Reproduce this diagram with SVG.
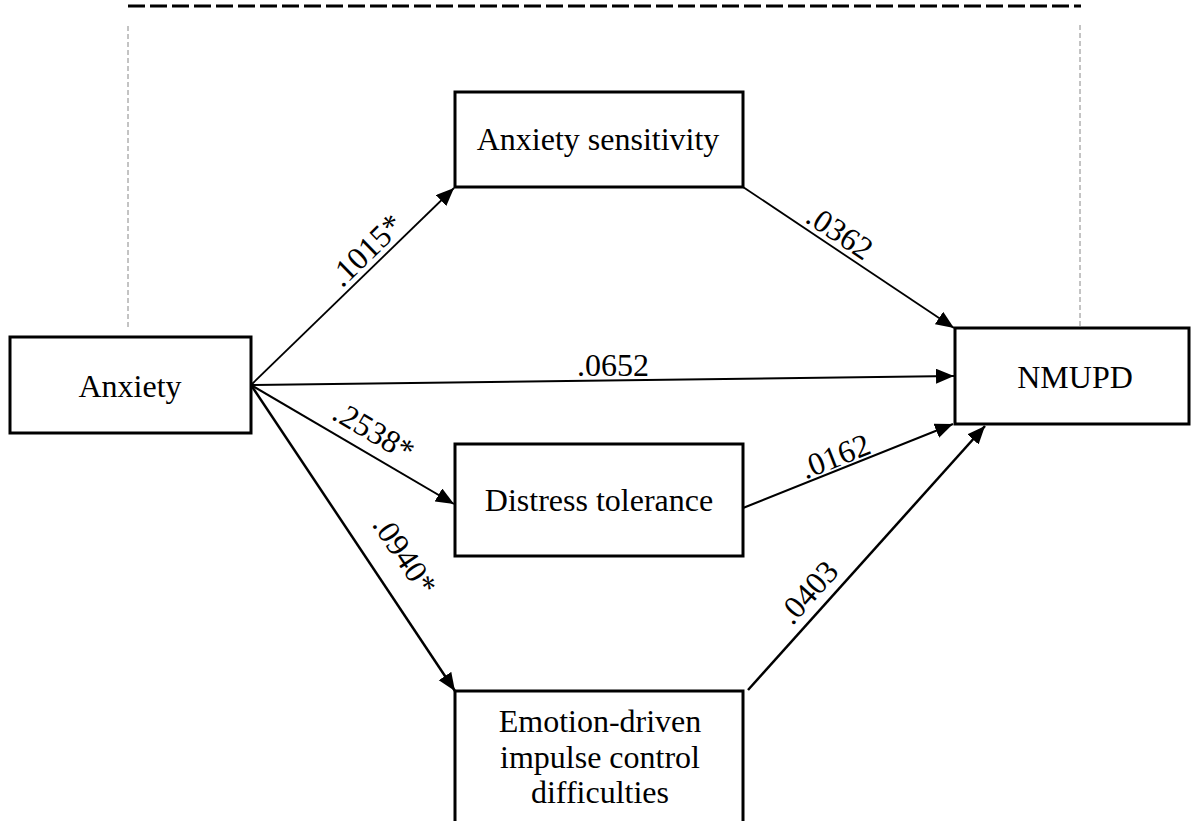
<svg xmlns="http://www.w3.org/2000/svg" width="1192" height="821" viewBox="0 0 1192 821">
  <defs>
    <marker id="arrow" markerUnits="userSpaceOnUse" markerWidth="20" markerHeight="16" refX="18" refY="7.5" orient="auto">
      <path d="M0,0 L18,7.5 L0,15 Z" fill="#000"/>
    </marker>
    <style>
      .node rect { fill: #fff; stroke: #000; stroke-width: 3; }
      .node text { font-family: "Liberation Serif", "Times New Roman", serif; font-size: 32px; fill: #000; text-anchor: middle; }
      .edge { stroke: #000; fill: none; marker-end: url(#arrow); }
      .label { font-family: "Liberation Serif", "Times New Roman", serif; font-size: 32px; fill: #000; text-anchor: middle; }
      .guide { stroke: #888; stroke-width: 1; stroke-dasharray: 5 3; fill: none; }
    </style>
  </defs>
  <rect width="1192" height="821" fill="#fff"/>

  <!-- bracket above the total-effect path -->
  <g id="bracket">
    <line x1="128" y1="6" x2="1081" y2="6" stroke="#000" stroke-width="3" stroke-dasharray="17 5"/>
    <line class="guide" x1="128" y1="26" x2="128" y2="328"/>
    <line class="guide" x1="1080" y1="25" x2="1080" y2="327"/>
  </g>

  <!-- connectors -->
  <g id="connectors">
    <line class="edge" x1="251" y1="385" x2="454" y2="188" stroke-width="1.8"/>
    <line class="edge" x1="743" y1="187" x2="954" y2="328" stroke-width="1.8"/>
    <line class="edge" x1="251" y1="385" x2="954" y2="376" stroke-width="2"/>
    <line class="edge" x1="251" y1="385" x2="454" y2="504" stroke-width="2"/>
    <line class="edge" x1="743" y1="508" x2="953" y2="424" stroke-width="2"/>
    <line class="edge" x1="251" y1="385" x2="455" y2="691" stroke-width="2.5"/>
    <line class="edge" x1="748" y1="690" x2="985" y2="426" stroke-width="2.5"/>
  </g>

  <!-- path coefficients -->
  <g id="labels">
    <text class="label" transform="translate(366,250) rotate(-44.2)" x="0" y="11">.1015*</text>
    <text class="label" transform="translate(840,232) rotate(33.6)" x="0" y="11">.0362</text>
    <text class="label" transform="translate(613,365)" x="0" y="11">.0652</text>
    <text class="label" transform="translate(374,431) rotate(30.5)" x="0" y="11">.2538*</text>
    <text class="label" transform="translate(835,456) rotate(-21.6)" x="0" y="11">.0162</text>
    <text class="label" transform="translate(405,555) rotate(56.3)" x="0" y="11">.0940*</text>
    <text class="label" transform="translate(808,592) rotate(-48.3)" x="0" y="11">.0403</text>
  </g>

  <g id="anxiety" class="node">
    <rect x="10" y="337" width="241" height="96"/>
    <text x="130" y="397">Anxiety</text>
  </g>

  <g id="anxiety-sensitivity" class="node">
    <rect x="455" y="92" width="288" height="95"/>
    <text x="598" y="150">Anxiety sensitivity</text>
  </g>

  <g id="distress-tolerance" class="node">
    <rect x="455" y="444" width="288" height="112"/>
    <text x="599" y="511">Distress tolerance</text>
  </g>

  <g id="emotion-driven" class="node">
    <rect x="455" y="691" width="288" height="140"/>
    <text x="600" y="732">Emotion-driven</text>
    <text x="600" y="768">impulse control</text>
    <text x="600" y="803">difficulties</text>
  </g>

  <g id="nmupd" class="node">
    <rect x="955" y="328" width="234" height="96"/>
    <text x="1075" y="388">NMUPD</text>
  </g>
</svg>
